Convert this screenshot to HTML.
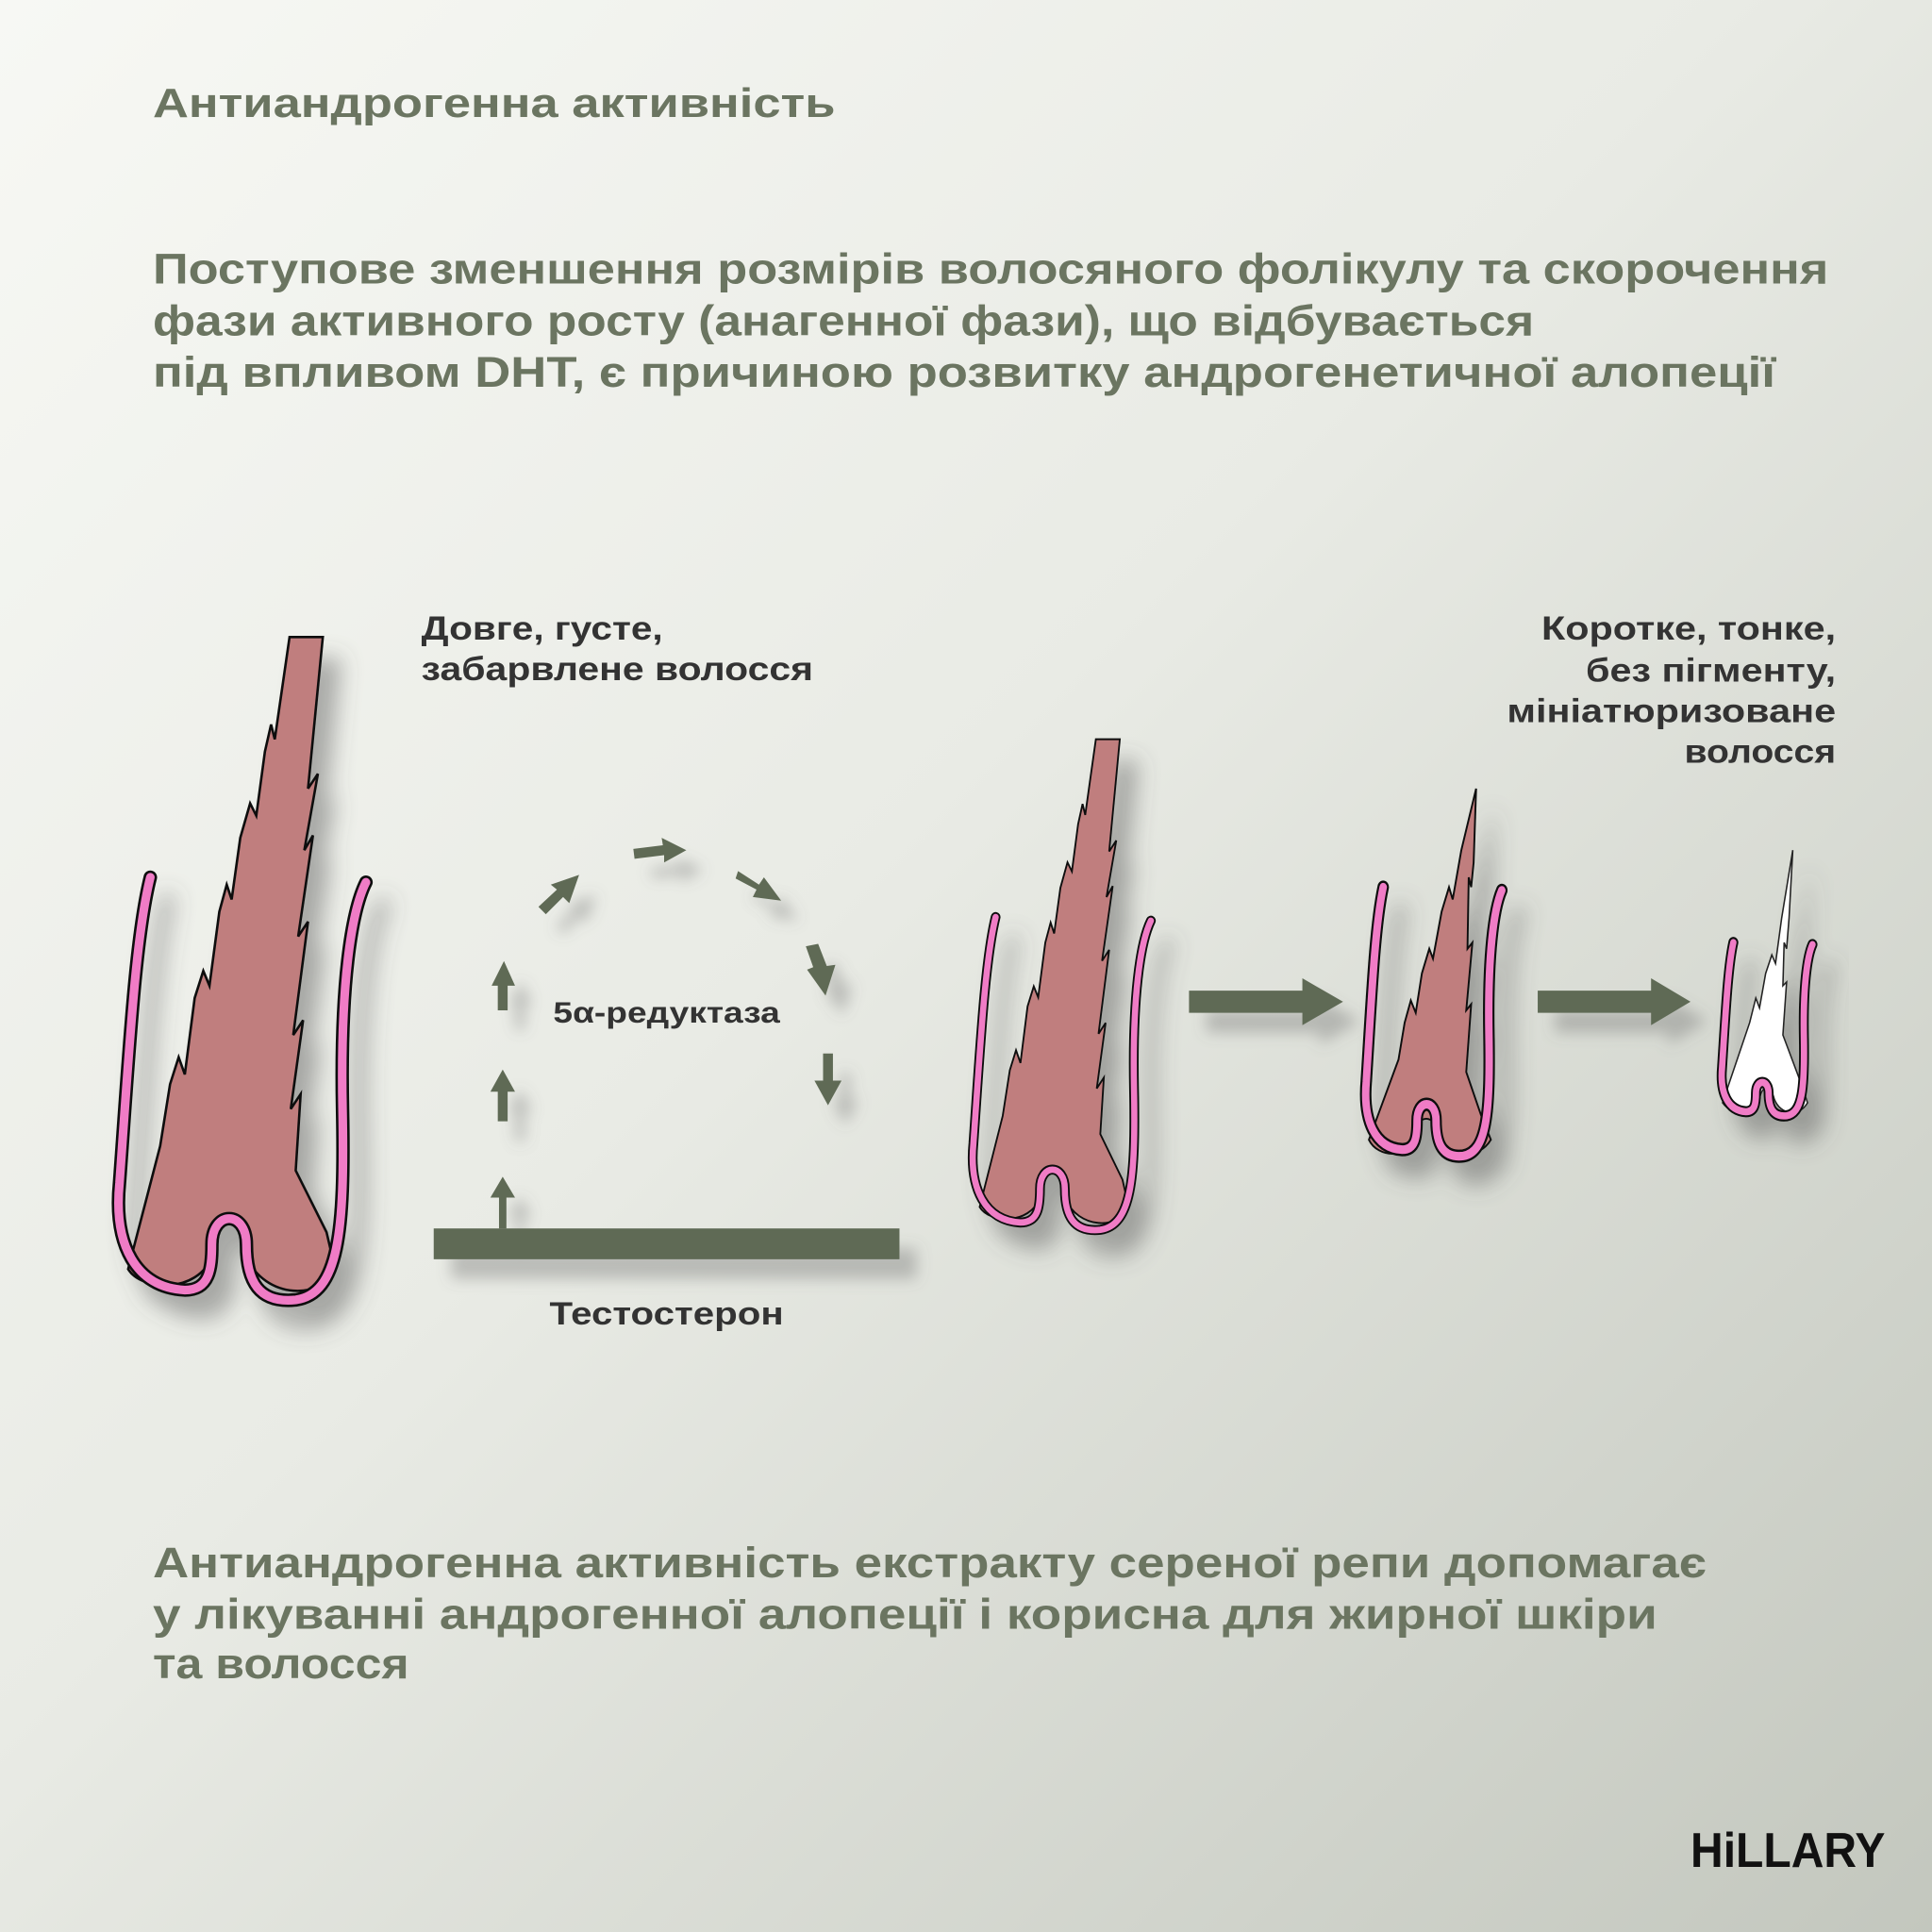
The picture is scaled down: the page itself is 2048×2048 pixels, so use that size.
<!DOCTYPE html>
<html><head><meta charset="utf-8"><style>
html,body{margin:0;padding:0;width:2048px;height:2048px;overflow:hidden}
svg{display:block}
</style></head><body>
<svg width="2048" height="2048" viewBox="0 0 1568 1568" xmlns="http://www.w3.org/2000/svg">
<defs>
<linearGradient id="bg" x1="0" y1="0" x2="1" y2="1">
<stop offset="0" stop-color="#f7f8f4"/><stop offset="0.45" stop-color="#e9ebe5"/><stop offset="1" stop-color="#c3c7be"/>
</linearGradient>
<filter id="sh" x="-30%" y="-30%" width="170%" height="170%">
<feDropShadow dx="14" dy="18" stdDeviation="9" flood-color="#555" flood-opacity="0.45"/>
</filter>
<filter id="sh2" x="-50%" y="-50%" width="250%" height="250%">
<feDropShadow dx="14" dy="16" stdDeviation="6" flood-color="#666" flood-opacity="0.35"/>
</filter>
<path id="sp" d="M122,712 C110,760 105,850 97,960 C92,1010 110,1045 150,1047 C170,1047 172,1030 172,1010 C172,982 200,982 200,1010 C200,1040 210,1058 240,1055 C275,1050 280,1000 278,900 C276,800 285,740 297,716" fill="none" stroke-linecap="round"/>
<g id="sheath">
<use href="#sp" stroke="#111" stroke-width="11"/>
<use href="#sp" stroke="#f07cc6" stroke-width="7"/>
</g>
<g id="sheathM">
<use href="#sp" stroke="#111" stroke-width="17"/>
<use href="#sp" stroke="#f07cc6" stroke-width="11"/>
</g>
<g id="sheathS">
<use href="#sp" stroke="#111" stroke-width="22"/>
<use href="#sp" stroke="#f07cc6" stroke-width="14"/>
</g>
<g id="f1">
<path d="M104,1030 L130,930 L138,880 L145,858 L150,872 L158,810 L165,788 L170,800 L178,740 L184,718 L188,730 L195,680 L203,652 L208,662 L215,610 L220,588 L223,600 L235,517 L262,517 L250,640 L258,628 L247,690 L254,678 L242,760 L250,748 L238,840 L246,828 L236,900 L244,888 L240,950 L265,1000 L272,1030 C262,1055 215,1055 200,1020 C198,1000 195,985 185,985 C175,985 172,1000 172,1020 C160,1050 115,1048 104,1030 Z" fill="#c07e7e" stroke="#111" stroke-width="2"/>
<use href="#sheath"/>
</g>
</defs>
<rect width="1568" height="1568" fill="url(#bg)"/>

<g font-family="Liberation Sans, DejaVu Sans, sans-serif" fill="#6b7561" font-weight="bold">
<text x="124" y="95" font-size="33" textLength="554" lengthAdjust="spacingAndGlyphs">Антиандрогенна активність</text>
<text x="124" y="230" font-size="35" textLength="1360" lengthAdjust="spacingAndGlyphs">Поступове зменшення розмірів волосяного фолікулу та скорочення</text>
<text x="124" y="272" font-size="35" textLength="1121" lengthAdjust="spacingAndGlyphs">фази активного росту (анагенної фази), що відбувається</text>
<text x="124" y="314" font-size="35" textLength="1317" lengthAdjust="spacingAndGlyphs">під впливом DHT, є причиною розвитку андрогенетичної алопеції</text>
<text x="124" y="1280" font-size="35" textLength="1261" lengthAdjust="spacingAndGlyphs">Антиандрогенна активність екстракту сереної репи допомагає</text>
<text x="124" y="1322" font-size="35" textLength="1221" lengthAdjust="spacingAndGlyphs">у лікуванні андрогенної алопеції і корисна для жирної шкіри</text>
<text x="124" y="1362" font-size="35" textLength="208" lengthAdjust="spacingAndGlyphs">та волосся</text>
</g>
<g font-family="Liberation Sans, DejaVu Sans, sans-serif" fill="#333" font-weight="bold" font-size="27">
<text x="342" y="519" textLength="196" lengthAdjust="spacingAndGlyphs">Довге, густе,</text>
<text x="342" y="552" textLength="318" lengthAdjust="spacingAndGlyphs">забарвлене волосся</text>
<text x="1251" y="519" textLength="239" lengthAdjust="spacingAndGlyphs">Коротке, тонке,</text>
<text x="1287" y="553" textLength="203" lengthAdjust="spacingAndGlyphs">без пігменту,</text>
<text x="1223" y="586" textLength="267" lengthAdjust="spacingAndGlyphs">мініатюризоване</text>
<text x="1367" y="619" textLength="123" lengthAdjust="spacingAndGlyphs">волосся</text>
<text x="449" y="830" font-size="24" textLength="184" lengthAdjust="spacingAndGlyphs">5α-редуктаза</text>
<text x="446" y="1075" font-size="26" textLength="190" lengthAdjust="spacingAndGlyphs">Тестостерон</text>
</g>
<text x="1372" y="1515" font-family="Liberation Sans, sans-serif" font-weight="bold" font-size="40" fill="#111" textLength="158" lengthAdjust="spacingAndGlyphs">HiLLARY</text>

<use href="#f1" filter="url(#sh)"/>
<g filter="url(#sh)"><use href="#f1" transform="translate(720.2,217.4) scale(0.72,0.74)"/></g>
<g filter="url(#sh)">
<path d="M1111,925 L1135,860 L1140,830 L1145,812 L1149,822 L1154,790 L1160,770 L1163,778 L1170,740 L1176,720 L1179,730 L1186,690 L1198,640 L1196,700 L1194,720 L1192,712 L1191,770 L1195,765 L1190,820 L1194,815 L1190,870 L1202,905 L1210,925 C1200,942 1175,940 1168,920 C1165,905 1150,903 1150,920 C1145,942 1118,940 1111,925 Z" fill="#c07e7e" stroke="#111" stroke-width="1.5"/>
<use href="#sheathM" transform="translate(1055.5,267.2) scale(0.55,0.636)"/>
</g>
<g filter="url(#sh)">
<path d="M1398,895 L1420,830 L1425,810 L1428,818 L1433,790 L1438,775 L1441,782 L1446,745 L1455,690 L1452,745 L1450,770 L1448,765 L1447,800 L1450,797 L1447,840 L1462,880 L1467,895 C1460,907 1445,905 1440,892 C1437,880 1430,880 1428,892 C1422,907 1405,905 1398,895 Z" fill="#fff" stroke="#222" stroke-width="1.2"/>
<use href="#sheathS" transform="translate(1362,473) scale(0.367,0.41)"/>
</g>

<g fill="#5f6b55" filter="url(#sh2)">
<path d="M965,804 L1057,804 L1057,794 L1090,813 L1057,832 L1057,822 L965,822 Z"/>
<path d="M1248,804 L1340,804 L1340,794 L1372,813 L1340,832 L1340,822 L1248,822 Z"/>
</g>

<g fill="#5f6b55" filter="url(#sh2)">
<rect x="352" y="997" width="378" height="25"/>
<path d="M405,997 L405,972 L398,972 L408,955 L418,972 L411,972 L411,997 Z"/>
<path d="M404,910 L404,886 L398,886 L408,868 L418,886 L412,886 L412,910 Z"/>
<path d="M404,820 L404,800 L399,800 L409,780 L418,800 L412,800 L412,820 Z"/>
<path d="M437,736 L452,722 L447,718 L470,710 L462,733 L457,728 L443,742 Z"/>
<path d="M514,689 L538,686 L537,680 L557,690 L539,700 L539,694 L515,697 Z"/>
<path d="M599,707 L616,718 L620,712 L634,731 L611,728 L614,722 L597,713 Z"/>
<path d="M654,768 L660,785 L655,787 L670,808 L678,783 L671,784 L664,766 Z"/>
<path d="M668,855 L668,877 L661,877 L672,897 L683,877 L676,877 L676,855 Z"/>
</g>
</svg>
</body></html>
